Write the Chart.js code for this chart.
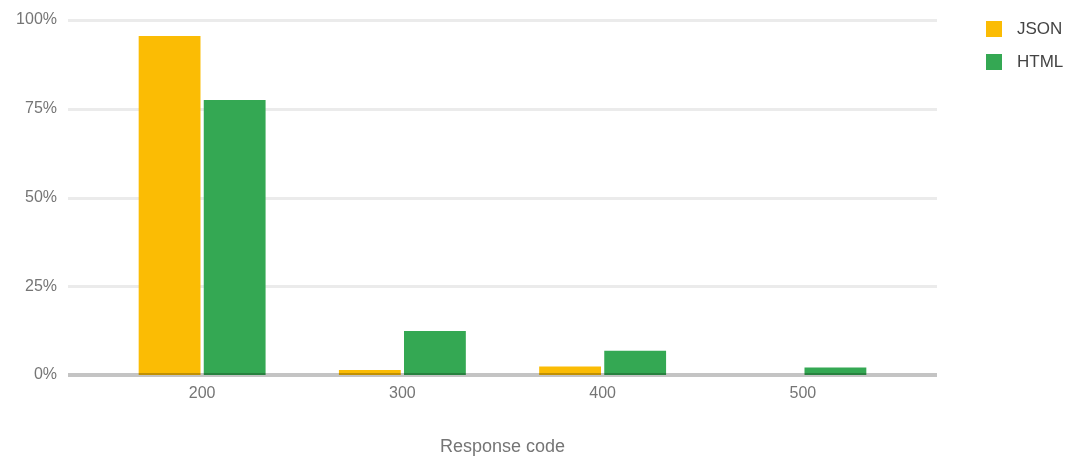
<!DOCTYPE html>
<html>
<head>
<meta charset="utf-8">
<script src="https://cdn.jsdelivr.net/npm/chart.js@4/dist/chart.umd.min.js"></script>
<style>
  html, body { margin: 0; padding: 0; background: #fff; }
  #wrap { width: 1068px; height: 456px; }
</style>
</head>
<body>
<div id="wrap"><canvas id="chart" width="1068" height="456"></canvas></div>
<script>
const codes = ['200', '300', '400', '500'];
const jsonShare = [95.5, 1.4, 2.4, 0];
const htmlShare = [77.5, 12.4, 6.8, 2.1];
const yTicks = [0, 25, 50, 75, 100];

const FONT = '"Liberation Sans", Arial, sans-serif';

// grid lines and base line run wider than the bar area
const wideGrid = {
    id: 'wideGrid',
    beforeDatasetsDraw(chart) {
        const ctx = chart.ctx;
        const y = chart.scales.y;
        ctx.save();
        ctx.strokeStyle = '#ebebeb';
        ctx.lineWidth = 3;
        yTicks.forEach(v => {
            if (v === 0) return;
            const py = Math.round(y.getPixelForValue(v)) + 0.5;
            ctx.beginPath();
            ctx.moveTo(68, py);
            ctx.lineTo(937, py);
            ctx.stroke();
        });
        ctx.restore();
    },
    afterDatasetsDraw(chart) {
        const ctx = chart.ctx;
        const py = chart.scales.y.getPixelForValue(0);
        ctx.save();
        ctx.strokeStyle = 'rgba(0,0,0,0.23)';
        ctx.lineWidth = 4;
        ctx.beginPath();
        ctx.moveTo(68, py);
        ctx.lineTo(937, py);
        ctx.stroke();
        ctx.restore();
    }
};

const sideLegend = {
    id: 'sideLegend',
    afterDraw(chart) {
        const ctx = chart.ctx;
        ctx.save();
        ctx.font = '17px ' + FONT;
        ctx.textBaseline = 'middle';
        chart.data.datasets.forEach((ds, i) => {
            const cy = 29 + i * 33;
            ctx.fillStyle = ds.backgroundColor;
            ctx.fillRect(986, cy - 8, 16, 16);
            ctx.fillStyle = '#444';
            ctx.fillText(ds.label, 1017, cy);
        });
        ctx.restore();
    }
};

new Chart(document.getElementById('chart'), {
    type: 'bar',
    data: {
        labels: codes,
        datasets: [
            { label: 'JSON', data: jsonShare, backgroundColor: '#fbbc04', categoryPercentage: 0.65, barPercentage: 0.95 },
            { label: 'HTML', data: htmlShare, backgroundColor: '#34a853', categoryPercentage: 0.65, barPercentage: 0.95 }
        ]
    },
    options: {
        responsive: false,
        animation: false,
        layout: { padding: { top: 20, right: 165, left: 0, bottom: 0 } },
        plugins: {
            legend: { display: false },
            tooltip: { enabled: false }
        },
        scales: {
            x: {
                grid: { display: false, drawTicks: false },
                border: { display: false },
                ticks: { color: '#757575', font: { family: FONT, size: 16 }, padding: 9 },
                title: {
                    display: true,
                    text: 'Response code',
                    color: '#757575',
                    font: { family: FONT, size: 18, lineHeight: 1 },
                    padding: { top: 0, bottom: 0 }
                },
                afterFit(scale) { scale.height = 81; }
            },
            y: {
                min: 0,
                max: 100,
                afterBuildTicks(scale) { scale.ticks = yTicks.map(v => ({ value: v })); },
                grid: { display: false, drawTicks: false },
                border: { display: false },
                ticks: {
                    color: '#757575',
                    font: { family: FONT, size: 16 },
                    padding: 45,
                    callback: v => v + '%'
                },
                afterFit(scale) {
                    scale.width = 102;
                    scale.paddingTop = 10;
                    scale.paddingBottom = 10;
                }
            }
        }
    },
    plugins: [wideGrid, sideLegend]
});
</script>
</body>
</html>
